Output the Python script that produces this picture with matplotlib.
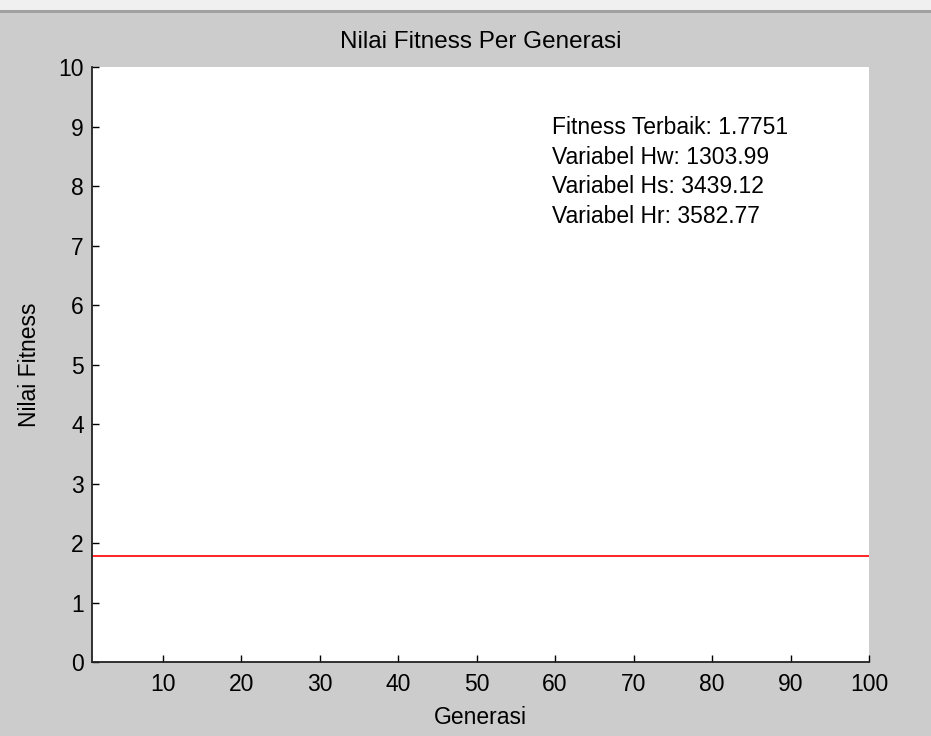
import matplotlib.pyplot as plt
from matplotlib.patches import Rectangle

# data
generasi = list(range(1, 101))
fitness = [1.7751] * 100
x_ticks = [10, 20, 30, 40, 50, 60, 70, 80, 90, 100]
y_ticks = [0, 1, 2, 3, 4, 5, 6, 7, 8, 9, 10]
info_lines = ["Fitness Terbaik: 1.7751",
              "Variabel Hw: 1303.99",
              "Variabel Hs: 3439.12",
              "Variabel Hr: 3582.77"]

plt.rcParams['font.family'] = ['Liberation Sans', 'DejaVu Sans']
fs = 16.5

fig = plt.figure(figsize=(9.31, 7.36), dpi=100)
fig.patch.set_facecolor('#cccccc')

# window strip at the very top
fig.add_artist(Rectangle((0, 1 - 10/736), 1, 10/736, transform=fig.transFigure,
                         facecolor='#f0f0f0', edgecolor='none'))
fig.add_artist(Rectangle((0, 1 - 13/736), 1, 3/736, transform=fig.transFigure,
                         facecolor='#a0a0a0', edgecolor='none'))

ax = fig.add_axes([92/931, 1 - 662/736, 777/931, 595/736])
ax.set_facecolor('white')

ax.plot(generasi, fitness, color='red', linewidth=1.2)

ax.set_xlim(1, 100)
ax.set_ylim(0, 10)
ax.set_xticks(x_ticks)
ax.set_yticks(y_ticks)
ax.tick_params(direction='in', length=5, width=1, labelsize=fs, pad=6)
ax.tick_params(axis='x', pad=8)

for side in ['top', 'right']:
    ax.spines[side].set_visible(False)
for side in ['left', 'bottom']:
    ax.spines[side].set_linewidth(1.3)
    ax.spines[side].set_color('#222222')

ax.set_title("Nilai Fitness Per Generasi", fontsize=17.5, pad=14)
ax.set_xlabel("Generasi", fontsize=fs, labelpad=7)
ax.set_ylabel("Nilai Fitness", fontsize=fs, labelpad=12)

for i, line in enumerate(info_lines):
    ax.text(0.592, 0.917 - i * 0.0496, line, transform=ax.transAxes,
            fontsize=fs, va='top', ha='left')

plt.savefig('out.png', dpi=100, facecolor=fig.get_facecolor())
